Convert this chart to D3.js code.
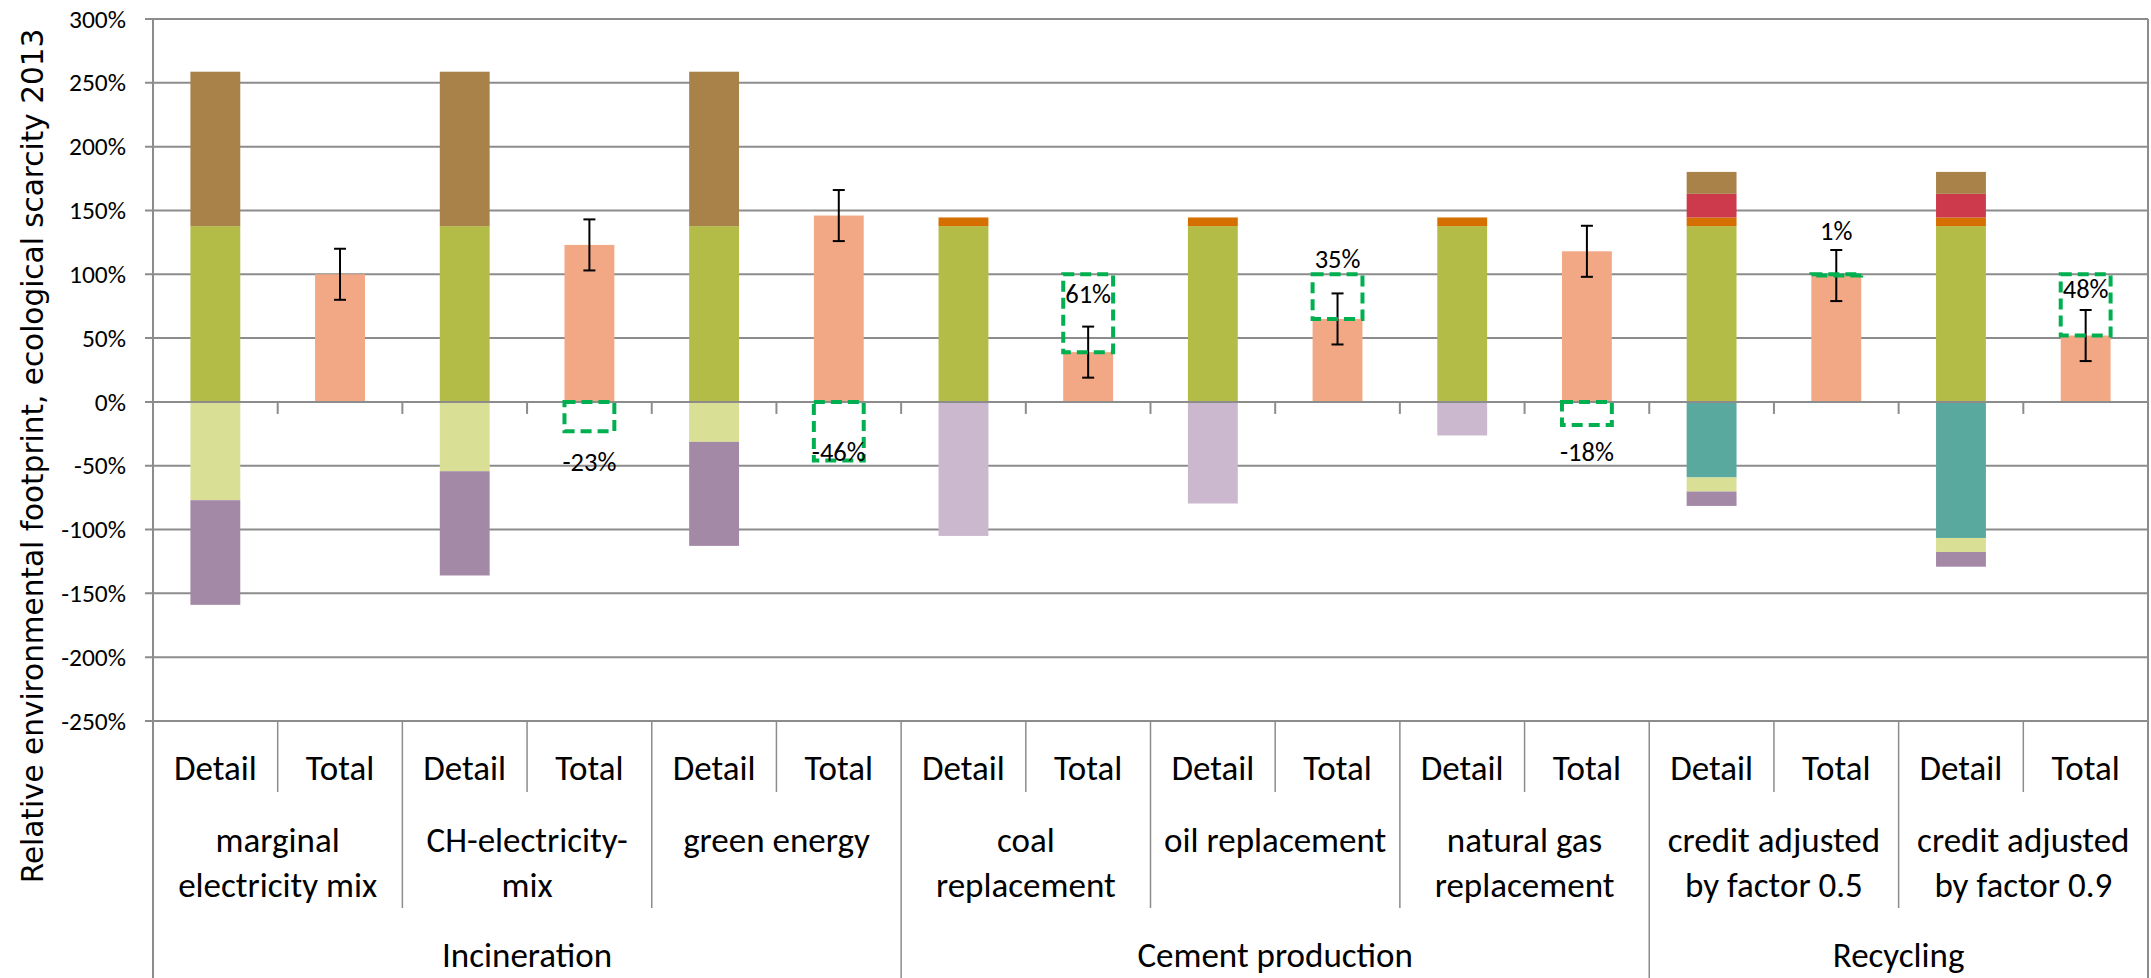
<!DOCTYPE html>
<html>
<head>
<meta charset="utf-8">
<script src="https://cdn.jsdelivr.net/npm/d3@7/dist/d3.min.js"></script>
<style>
  html, body { margin: 0; padding: 0; background: #ffffff; }
  svg { display: block; }
</style>
</head>
<body>
<svg id="chart" width="2151" height="978"></svg>
<script>
// ---------------------------------------------------------------------------
// Data (percent of the reference footprint)
// ---------------------------------------------------------------------------
const groups = ["Incineration", "Cement production", "Recycling"];
const scenarios = [
  "marginal\nelectricity mix",
  "CH-electricity-\nmix",
  "green energy",
  "coal\nreplacement",
  "oil replacement",
  "natural gas\nreplacement",
  "credit adjusted\nby factor 0.5",
  "credit adjusted\nby factor 0.9"
];
const scenarioGroup = [0, 0, 0, 1, 1, 1, 2, 2];
const barKinds = ["Detail", "Total"];
const yTicks = [-250, -200, -150, -100, -50, 0, 50, 100, 150, 200, 250, 300];

// Detail bar contributions, one value per scenario
const olive       = [137.7, 137.7, 137.7, 137.7, 137.7, 137.7, 137.7, 137.7];
const orange      = [0, 0, 0, 6.8, 6.8, 6.8, 6.8, 6.8];
const crimson     = [0, 0, 0, 0, 0, 0, 18.5, 18.5];
const ochre       = [121, 121, 121, 0, 0, 0, 17.2, 17.2];
const teal        = [0, 0, 0, 0, 0, 0, -59.2, -106.6];
const paleGreen   = [-77, -54.3, -31.3, 0, 0, 0, -11, -11];
const mauve       = [-82, -81.7, -81.5, 0, 0, 0, -11.3, -11.5];
const paleMauve   = [0, 0, 0, -105, -79.6, -26.3, 0, 0];

// Total bars with their uncertainty (+/-)
const totals      = [100, 123, 146, 39, 65, 118, 99, 52];
const totalError  = [20, 20, 20, 20, 20, 20, 20, 20];

// Change against the reference (100 %) stated above / below each total
const savings     = [null, -23, -46, 61, 35, -18, 1, 48];

// ---------------------------------------------------------------------------
// Layout & styling
// ---------------------------------------------------------------------------
const W = 2151, H = 978;
const plot = { left: 153, right: 2148, top: 19, bottom: 721 };
const FONT = "Carlito, Calibri, Lato, 'Open Sans', sans-serif";
const GRID = "#8c8c8c";

const seriesKeys = ["olive", "orange", "crimson", "ochre", "teal", "paleGreen", "mauve", "paleMauve"];
const seriesData = { olive, orange, crimson, ochre, teal, paleGreen, mauve, paleMauve };
const seriesColor = {
  olive: "#b4bc48", orange: "#d46f00", crimson: "#cd3a4b", ochre: "#a9824a",
  teal: "#5aa99e", paleGreen: "#d9e096", mauve: "#a489a7", paleMauve: "#cbb8ce"
};
const totalColor = "#f2a884";
const boxColor = "#00b050";

// label placement relative to the dashed box edge (px, positive = down)
const labelDy = [0, 30, -9, 19, -16, 27, -44, 14];

const svg = d3.select("#chart");

const bandKeys = [];
scenarios.forEach((s, i) => barKinds.forEach(k => bandKeys.push(i + "|" + k)));

const x = d3.scaleBand()
  .domain(bandKeys)
  .range([plot.left, plot.right])
  .paddingInner(0.6)
  .paddingOuter(0.3);
const step = x.step();
const boundary = i => plot.left + i * step;

const y = d3.scaleLinear().domain([-250, 300]).range([plot.bottom, plot.top]);

// ---------------------------------------------------------------------------
// Grid and value axis
// ---------------------------------------------------------------------------
svg.append("g")
  .selectAll("line")
  .data(yTicks)
  .join("line")
  .attr("x1", plot.left - 8)
  .attr("x2", plot.right)
  .attr("y1", d => y(d))
  .attr("y2", d => y(d))
  .attr("stroke", GRID)
  .attr("stroke-width", 2);

const yAxis = svg.append("g")
  .attr("transform", `translate(${plot.left},0)`)
  .call(d3.axisLeft(y).tickValues(yTicks).tickSize(0).tickPadding(27).tickFormat(d => d + "%"));
yAxis.select(".domain").remove();
yAxis.selectAll("text")
  .attr("font-family", FONT)
  .attr("font-size", 25.5)
  .attr("fill", "#000");

// ---------------------------------------------------------------------------
// Stacked detail bars
// ---------------------------------------------------------------------------
const stackRows = scenarios.map((s, i) => {
  const row = { idx: i };
  seriesKeys.forEach(k => { row[k] = seriesData[k][i]; });
  return row;
});
const stacked = d3.stack()
  .keys(seriesKeys)
  .offset(d3.stackOffsetDiverging)(stackRows);

svg.append("g")
  .selectAll("g")
  .data(stacked)
  .join("g")
  .attr("fill", d => seriesColor[d.key])
  .selectAll("rect")
  .data(d => d.filter(p => p[1] !== p[0]))
  .join("rect")
  .attr("x", p => x(p.data.idx + "|Detail"))
  .attr("width", x.bandwidth())
  .attr("y", p => y(Math.max(p[0], p[1])))
  .attr("height", p => Math.abs(y(p[0]) - y(p[1])));

// ---------------------------------------------------------------------------
// Total bars with error bars
// ---------------------------------------------------------------------------
const totalRows = totals.map((v, i) => ({ idx: i, v, e: totalError[i], s: savings[i] }));

svg.append("g")
  .selectAll("rect")
  .data(totalRows)
  .join("rect")
  .attr("x", d => x(d.idx + "|Total"))
  .attr("width", x.bandwidth())
  .attr("y", d => y(Math.max(0, d.v)))
  .attr("height", d => Math.abs(y(d.v) - y(0)))
  .attr("fill", totalColor);

// category axis line at zero with its ticks
svg.append("line")
  .attr("x1", plot.left).attr("x2", plot.right)
  .attr("y1", y(0)).attr("y2", y(0))
  .attr("stroke", GRID).attr("stroke-width", 2);
svg.append("g")
  .selectAll("line")
  .data(d3.range(1, bandKeys.length + 1))
  .join("line")
  .attr("x1", boundary).attr("x2", boundary)
  .attr("y1", y(0)).attr("y2", y(0) + 12)
  .attr("stroke", GRID).attr("stroke-width", 2);

const err = svg.append("g").attr("stroke", "#000").attr("stroke-width", 2);
totalRows.forEach(d => {
  const cx = x(d.idx + "|Total") + x.bandwidth() / 2;
  err.append("line").attr("x1", cx).attr("x2", cx).attr("y1", y(d.v + d.e)).attr("y2", y(d.v - d.e));
  err.append("line").attr("x1", cx - 6).attr("x2", cx + 6).attr("y1", y(d.v + d.e)).attr("y2", y(d.v + d.e));
  err.append("line").attr("x1", cx - 6).attr("x2", cx + 6).attr("y1", y(d.v - d.e)).attr("y2", y(d.v - d.e));
});

// ---------------------------------------------------------------------------
// Dashed boxes marking the change against 100 %, with their labels
// ---------------------------------------------------------------------------
const boxRows = totalRows.filter(d => d.s !== null).map(d => {
  const lo = d.s > 0 ? 100 - d.s : d.s;
  const hi = d.s > 0 ? 100 : 0;
  return Object.assign({}, d, { lo, hi });
});

svg.append("g")
  .selectAll("rect")
  .data(boxRows)
  .join("rect")
  .attr("x", d => x(d.idx + "|Total"))
  .attr("width", x.bandwidth())
  .attr("y", d => y(d.hi))
  .attr("height", d => y(d.lo) - y(d.hi))
  .attr("fill", "none")
  .attr("stroke", boxColor)
  .attr("stroke-width", 4)
  .attr("stroke-dasharray", "11,6");

svg.append("g")
  .selectAll("text")
  .data(boxRows)
  .join("text")
  .attr("x", d => x(d.idx + "|Total") + x.bandwidth() / 2)
  .attr("y", d => (d.s > 0 ? y(d.hi) : y(d.lo)) + labelDy[d.idx])
  .attr("dy", "0.35em")
  .attr("text-anchor", "middle")
  .attr("font-family", FONT)
  .attr("font-size", 26.5)
  .attr("fill", "#000")
  .text(d => d.s + "%");

// ---------------------------------------------------------------------------
// Plot frame and multi-level category axis
// ---------------------------------------------------------------------------
const frame = svg.append("g").attr("stroke", GRID).attr("stroke-width", 2);
frame.append("line").attr("x1", plot.left).attr("x2", plot.left).attr("y1", plot.top).attr("y2", H);
frame.append("line").attr("x1", plot.right).attr("x2", plot.right).attr("y1", plot.top).attr("y2", H);

const groupStart = [];
scenarioGroup.forEach((g, i) => { if (groupStart[g] === undefined) groupStart[g] = i; });

const sep = svg.append("g").attr("stroke", GRID).attr("stroke-width", 1.5);
d3.range(1, bandKeys.length).forEach(i => {
  let bottom = 792;
  if (i % 2 === 0) {
    const sc = i / 2;
    bottom = groupStart.includes(sc) ? H : 908;
  }
  sep.append("line")
    .attr("x1", boundary(i)).attr("x2", boundary(i))
    .attr("y1", plot.bottom).attr("y2", bottom);
});

// level 1: Detail / Total
svg.append("g")
  .selectAll("text")
  .data(bandKeys)
  .join("text")
  .attr("x", d => x(d) + x.bandwidth() / 2)
  .attr("y", 780)
  .attr("text-anchor", "middle")
  .attr("font-family", FONT)
  .attr("font-size", 35)
  .attr("fill", "#000")
  .text(d => d.split("|")[1]);

// level 2: scenarios
const scen = svg.append("g")
  .selectAll("text")
  .data(scenarios)
  .join("text")
  .attr("x", (d, i) => boundary(2 * i + 1))
  .attr("y", 852)
  .attr("text-anchor", "middle")
  .attr("font-family", FONT)
  .attr("font-size", 35)
  .attr("fill", "#000");
scen.selectAll("tspan")
  .data(d => d.split("\n"))
  .join("tspan")
  .attr("x", function () { return d3.select(this.parentNode).attr("x"); })
  .attr("dy", (d, j) => (j === 0 ? 0 : 45))
  .text(d => d);

// level 3: groups
svg.append("g")
  .selectAll("text")
  .data(groups)
  .join("text")
  .attr("x", (d, g) => {
    const idx = scenarioGroup.map((v, i) => (v === g ? i : -1)).filter(i => i >= 0);
    return (boundary(2 * idx[0]) + boundary(2 * (idx[idx.length - 1] + 1))) / 2;
  })
  .attr("y", 967)
  .attr("text-anchor", "middle")
  .attr("font-family", FONT)
  .attr("font-size", 35)
  .attr("fill", "#000")
  .text(d => d);

// value axis title
svg.append("text")
  .attr("transform", "translate(43,456) rotate(-90)")
  .attr("text-anchor", "middle")
  .attr("font-family", "Verdana, 'DejaVu Sans', sans-serif")
  .attr("font-size", 29.5)
  .attr("fill", "#000")
  .text("Relative environmental footprint, ecological scarcity 2013");
</script>
</body>
</html>
